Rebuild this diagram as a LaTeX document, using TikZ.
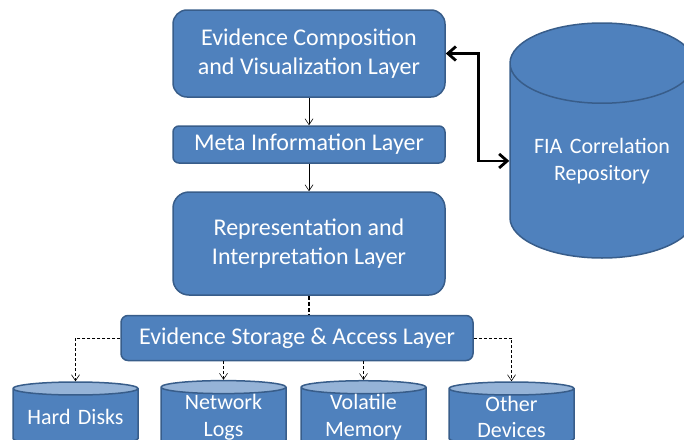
\documentclass[tikz,border=0pt]{standalone}
\usepackage{fontspec}
\setmainfont{Carlito}
\usetikzlibrary{positioning,shapes.geometric,arrows,arrows.meta}
\definecolor{layerblue}{HTML}{4F81BD}
\definecolor{layeredge}{HTML}{385D8A}
\definecolor{lidblue}{HTML}{95B3D7}
\tikzset{
  layer/.style={rectangle, draw=layeredge, fill=layerblue, line width=1.5pt,
    text=white, align=center, inner sep=0pt, minimum width=272pt,
    font=\fontsize{24}{29}\selectfont},
  store/.style={cylinder, shape border rotate=90, draw=layeredge, line width=1.5pt,
    cylinder uses custom fill, cylinder body fill=layerblue, cylinder end fill=lidblue,
    text=white, align=center, inner sep=0pt, anchor=shape center,
    font=\fontsize{22}{26.5}\selectfont},
  disk/.style={store, text width=112pt, minimum height=63pt, minimum width=125pt, aspect=0.116},
  thin/.style={line width=0.6pt, -{Straight Barb[length=6pt,width=8pt]}},
  dots/.style={thin, dash pattern=on 3pt off 2pt},
  link/.style={line width=2.8pt, {Straight Barb[length=8pt,width=14pt]}-{Straight Barb[length=8pt,width=14pt]}}
}
\begin{document}
\begin{tikzpicture}[node distance=91pt, on grid]
   \useasboundingbox (0,0) rectangle (684pt,-439pt);
   \node[layer, minimum height=87pt, rounded corners=14pt] (comp) at (309pt,-53.5pt) {Evidence Composition\\and Visualization Layer};
   \node[layer, minimum height=37pt, rounded corners=6pt] (meta) [below=of comp] {Meta Information Layer};
   \node[layer, minimum height=103pt, rounded corners=16pt] (repr) [below=99pt of meta] {Representation and\\Interpretation Layer};
   \node[layer, minimum height=45pt, minimum width=352pt, rounded corners=7pt] (access) [below left=94.5pt and 12pt of repr] {Evidence Storage \& Access Layer};
   \node[store, cylinder end fill=layerblue, text width=136pt, minimum height=235pt, minimum width=184pt, aspect=0.59] (repo) at (602pt,-140.5pt) {FIA Correlation\\Repository};
   \node[disk] (hdd) at (75.5pt,-413.5pt) {Hard Disks};
   \node[disk] (netlog) [right=148pt of hdd] {Network\\Logs};
   \node[disk] (volmem) [right=140pt of netlog] {Volatile\\Memory};
   \node[disk] (other) [right=148pt of volmem] {Other\\Devices};
   \draw[thin] (comp) -- (meta);
   \draw[thin] (meta) -- (repr);
   \draw[line width=1.4pt, dash pattern=on 4pt off 2pt] (repr) -- (repr |- access.north);
   \draw[link] (comp.east) -- ++(33pt,0) |- (repo.west);
   \draw[dots] (access.west) -| (hdd.north);
   \draw[dots] (netlog.north |- access.south) -- (netlog.north);
   \draw[dots] (volmem.north |- access.south) -- (volmem.north);
   \draw[dots] (access.east) -| (other.north);
\end{tikzpicture}
\end{document}
